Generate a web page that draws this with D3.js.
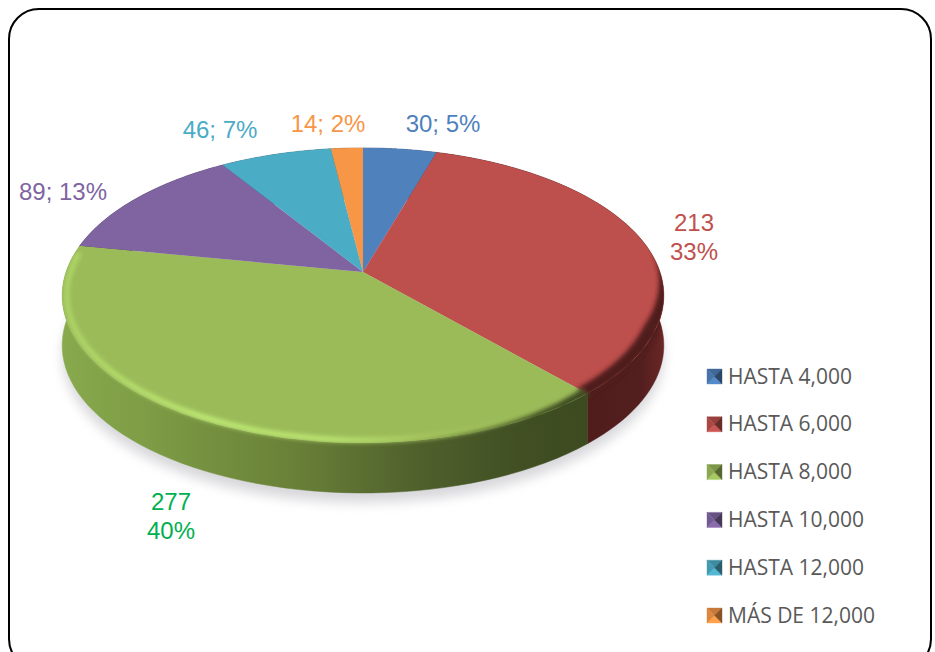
<!DOCTYPE html>
<head>
  <meta charset="utf-8">
  <style>
    html, body { margin: 0; padding: 0; background: #fff; overflow: hidden; }
    svg { display: block; }
  </style>
  <title>Pie</title>
</head>
<body>
  <script src="https://cdn.jsdelivr.net/npm/d3@7"></script>
  <script>
    // chart data
    var categories = ["HASTA 4,000", "HASTA 6,000", "HASTA 8,000", "HASTA 10,000", "HASTA 12,000", "MÁS DE 12,000"];
    var counts = [30, 213, 277, 89, 46, 14];
    var percents = [5, 33, 40, 13, 7, 2];
    // slice sizes as drawn in the picture, the labels are rounded
    var shares = [4.6, 33.8, 39.6, 13, 7, 2];
    var labelLines = [["30; 5%"], ["213", "33%"], ["277", "40%"], ["89; 13%"], ["46; 7%"], ["14; 2%"]];

    var colors = ["#4f81bd", "#bd4f4c", "#9bbb59", "#8064a2", "#4bacc6", "#f79646"];
    var labelColors = ["#4f81bd", "#c0504d", "#00b050", "#8064a2", "#4bacc6", "#f79646"];
    var labelX = [443, 694, 171, 63, 220, 328];
    var labelY = [132, 231, 510, 200, 138, 132];

    var width = 935;
    var height = 652;

    var svg = d3.select("body").append("svg")
      .attr("width", width)
      .attr("height", height);

    var defs = svg.append("defs");

    // frame
    svg.append("rect")
      .attr("x", 9).attr("y", 9)
      .attr("width", 922).attr("height", 660)
      .attr("rx", 30).attr("ry", 30)
      .attr("fill", "#fff")
      .attr("stroke", "#000")
      .attr("stroke-width", 2);

    // pie projected with perspective, center of the pie is the apex
    var apexX = 363, apexY = 272;
    var scaleA = 297, scaleB = 143.8, persp = 0.159;
    var depth = 50;

    function project(angle, r, dy) {
      var px = Math.sin(angle) * r;
      var py = -Math.cos(angle) * r;
      var w = 1 - persp * py;
      return [apexX + scaleA * px / w, apexY + scaleB * py / w + dy];
    }

    function arcPoints(a0, a1, r, dy) {
      return d3.range(0, 61).map(function(i) {
        return project(a0 + (a1 - a0) * i / 60, r, dy);
      });
    }

    // band along the edge, its inner radius goes from rIn0 to rIn1
    function bandPath(a0, a1, rIn0, rIn1) {
      var angle = d3.scaleLinear().domain([0, 60]).range([a0, a1]);
      var rIn = d3.scaleLinear().domain([0, 60]).range([rIn0, rIn1]);
      var outer = d3.range(0, 61).map(function(i) { return project(angle(i), 1.01, 0); });
      var inner = d3.range(0, 61).map(function(i) { return project(angle(i), rIn(i), 0); }).reverse();
      return line(outer.concat(inner)) + "Z";
    }

    var pie = d3.pie().sort(null);
    var slices = pie(shares);
    var line = d3.line();

    function blur(id, sd) {
      defs.append("filter").attr("id", id)
        .attr("x", "-20%").attr("y", "-20%").attr("width", "140%").attr("height", "140%")
        .append("feGaussianBlur").attr("stdDeviation", sd);
    }
    blur("shadowBlur", 6);
    blur("rimBlur", 2);

    function xGradient(id, stops) {
      var g = defs.append("linearGradient").attr("id", id)
        .attr("gradientUnits", "userSpaceOnUse")
        .attr("x1", 62).attr("x2", 665).attr("y1", 0).attr("y2", 0);
      stops.forEach(function(s) {
        g.append("stop").attr("offset", (s[0] - 62) / 603).attr("stop-color", s[1]);
      });
    }
    xGradient("greenSide", [[62, "#88a94c"], [150, "#7d9c45"], [300, "#687f37"], [420, "#4f602c"], [520, "#414f23"], [590, "#3d4a20"]]);
    xGradient("greenRim", [[62, "#aed566"], [200, "#c0ec76"], [330, "#bce672"], [430, "#a4c55d"], [590, "#9bbb59"]]);
    xGradient("redSide", [[585, "#4f1c1c"], [640, "#531e1e"], [665, "#6a2726"]]);

    // shadow under the disc
    svg.append("path")
      .attr("d", line(arcPoints(0, 2 * Math.PI, 1.0, depth + 10)) + "Z")
      .attr("fill", "#d8d8dc")
      .attr("filter", "url(#shadowBlur)");

    // side wall
    var sideFill = ["#2b4a6f", "url(#redSide)", "url(#greenSide)", "#4a3a5f", "#2a6678", "#94581f"];
    var sides = svg.append("g");
    slices.forEach(function(d, i) {
      var top = arcPoints(d.startAngle, d.endAngle, 1, 0);
      var bottom = arcPoints(d.startAngle, d.endAngle, 1, depth).reverse();
      sides.append("path")
        .attr("d", line(top.concat(bottom)) + "Z")
        .attr("fill", sideFill[i])
        .attr("stroke", sideFill[i])
        .attr("stroke-width", 0.5);
    });

    // top faces
    var faces = svg.append("g");
    slices.forEach(function(d, i) {
      faces.append("path")
        .attr("d", line([[apexX, apexY]].concat(arcPoints(d.startAngle, d.endAngle, 1, 0))) + "Z")
        .attr("fill", colors[i]);
    });

    // soft bevel, kept inside the top face + wall outline
    defs.append("clipPath").attr("id", "discClip")
      .append("path")
      .attr("d", line(arcPoints(0, 2 * Math.PI, 1, 0)) + "Z" + line(arcPoints(1.45, 4.7, 1, 0).concat(arcPoints(1.45, 4.7, 1, depth).reverse())) + "Z");

    var redEnd = slices[1].endAngle;
    var greenEnd = slices[2].endAngle;
    var bevel = svg.append("g").attr("clip-path", "url(#discClip)")
      .append("g").attr("filter", "url(#rimBlur)");

    // red: dark band that widens to the front
    bevel.append("path")
      .attr("d", bandPath(1.4, 1.95, 1.01, 0.96))
      .attr("fill", "#4f1c1c");
    bevel.append("path")
      .attr("d", bandPath(1.95, redEnd, 0.96, 0.96))
      .attr("fill", "#4f1c1c");

    // green: light line just inside the edge, wall colour grows on the dark end
    bevel.append("path")
      .attr("d", line(arcPoints(redEnd, greenEnd - 0.05, 0.985, 0)))
      .attr("fill", "none")
      .attr("stroke", "url(#greenRim)")
      .attr("stroke-width", 5);
    bevel.append("path")
      .attr("d", bandPath(3.1, redEnd, 1.01, 0.972))
      .attr("fill", "url(#greenSide)");

    // data labels
    var labels = svg.append("g")
      .attr("font-family", "'Liberation Sans', Arial, sans-serif")
      .attr("font-size", 24)
      .attr("text-anchor", "middle");
    labelLines.forEach(function(lines, i) {
      lines.forEach(function(t, j) {
        labels.append("text")
          .attr("x", labelX[i])
          .attr("y", labelY[i] + j * 29)
          .attr("fill", labelColors[i])
          .text(t);
      });
    });

    // legend
    var legendY = d3.scalePoint().domain(categories).range([376, 615]);
    var legend = svg.append("g");
    categories.forEach(function(c, i) {
      var cy = legendY(c);
      var x0 = 707, x1 = 722, y0 = cy - 7, y1 = cy + 8;
      var cx = (x0 + x1) / 2, cm = (y0 + y1) / 2;
      var col = d3.color(colors[i]);
      var tris = [
        [[x0, y0], [x1, y0], [cx, cm], col.darker(0.6)],
        [[x0, y1], [x1, y1], [cx, cm], col.brighter(0.2)],
        [[x0, y0], [x0, y1], [cx, cm], col.darker(0.3)],
        [[x1, y0], [x1, y1], [cx, cm], col.darker(1.7)]
      ];
      tris.forEach(function(t) {
        legend.append("path")
          .attr("d", line(t.slice(0, 3)) + "Z")
          .attr("fill", t[3])
          .attr("stroke", t[3])
          .attr("stroke-width", 0.4);
      });
      legend.append("text")
        .attr("x", 728)
        .attr("y", cy + 7.5)
        .attr("font-family", "'Open Sans', sans-serif")
        .attr("font-size", 21)
        .attr("fill", "#595959")
        .text(c);
    });
  </script>
</body>
